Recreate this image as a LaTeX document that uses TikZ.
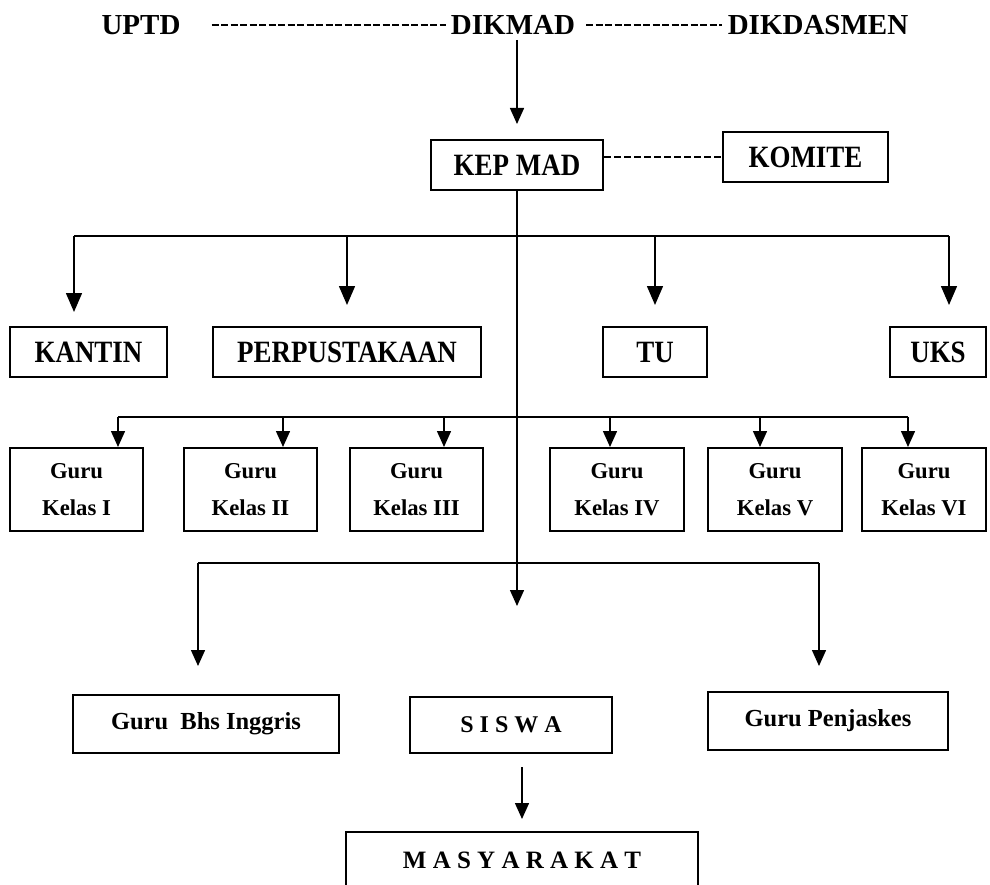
\documentclass[tikz,border=0pt]{standalone}
\usepackage{fontspec}
\setmainfont{Liberation Serif}
\newfontfamily\condfont[FakeStretch=0.87]{Liberation Serif}
\usetikzlibrary{arrows.meta}

\begin{document}
\begin{tikzpicture}[x=1pt, y=-1pt,
    box/.style = {draw, line width=2pt, inner sep=0pt, align=center},
    lbl/.style = {box, minimum height=50pt, font=\condfont\bfseries\fontsize{31}{36}\selectfont},
    guru/.style = {box, minimum height=83pt, font=\bfseries\fontsize{22.7}{37}\selectfont},
    low/.style = {box, minimum height=58pt, font=\bfseries\fontsize{24.5}{30}\selectfont},
    head/.style = {inner sep=0pt, font=\bfseries\fontsize{29}{34}\selectfont},
    link/.style = {line width=1.5pt},
    arr/.style = {link, -{Triangle[length=16pt, width=14pt]}},
    bigarr/.style = {link, -{Triangle[length=19pt, width=16pt]}},
    dsh/.style = {line width=2.2pt, dash pattern=on 7pt off 2.5pt}]
    \useasboundingbox (0,0) rectangle (990,885);
    \clip (0,0) rectangle (990,885);

    % top line
    \node[head] (uptd) at (141,25) {UPTD};
    \node[head] (dikmad) at (513,25) {DIKMAD};
    \node[head] (dikdas) at (818,25) {DIKDASMEN};
    \draw[dsh, shorten <=31pt, shorten >=5pt] (uptd) -- (dikmad);
    \draw[dsh, shorten <=11pt, shorten >=6pt] (dikmad) -- (dikdas);

    % head of school and committee
    \node[lbl, minimum width=172pt] (kepmad) at (517,165) {KEP MAD};
    \node[lbl, minimum width=165pt] (komite) at (805.5,157) {KOMITE};
    \draw[arr, shorten <=5pt, shorten >=15pt] (kepmad.north |- dikmad.south) -- (kepmad.north);
    \draw[dsh, line width=1.8pt, dash pattern=on 7pt off 3pt] (kepmad.east |- komite.west) -- (komite.west);

    % units
    \node[lbl, minimum width=157pt] (kantin) at (88.5,352) {KANTIN};
    \node[lbl, minimum width=268pt] (perp) at (347,352) {PERPUSTAKAAN};
    \node[lbl, minimum width=104pt] (tu) at (655,352) {TU};
    \node[lbl, minimum width=96pt] (uks) at (938,352) {UKS};

    % class teachers
    \foreach \x/\w/\k [count=\i] in {76.5/133/I, 250.5/133/II, 416.5/133/III, 617/134/IV, 775/134/V, 924/124/VI}
        \node[guru, minimum width=\w pt] (g\i) at (\x,489.5) {Guru\\Kelas \k};

    % subject teachers and pupils
    \node[low, minimum width=266pt] (bing) at (206,724) {Guru\hspace{0.5em}Bhs Inggris};
    \node[low, minimum width=202pt, minimum height=56pt, font=\bfseries\fontsize{24}{30}\selectfont] (siswa) at (511,725) {S I S W A};
    \node[low, minimum width=240pt] (penjas) at (828,721) {Guru Penjaskes};
    \node[low, minimum width=352pt, minimum height=56pt, font=\bfseries\fontsize{25}{30}\selectfont] (masy) at (522,860) {M A S Y A R A K A T};

    % main line
    \draw[arr, shorten >=90pt] (kepmad.south) -- (kepmad.south |- siswa.north);

    % first branch
    \foreach \x [count=\i] in {74,347,655,949}
        \coordinate (d\i) at (\x,236);
    \draw[link] (d1) -- (d4);
    \draw[bigarr, shorten >=14pt] (d1) -- (d1 |- kantin.north);
    \foreach \i/\n in {2/perp, 3/tu, 4/uks}
        \draw[bigarr, shorten >=21pt] (d\i) -- (d\i |- \n.north);

    % second branch
    \foreach \x [count=\i] in {118,283,444,610,760,908}
        \coordinate (e\i) at (\x,417);
    \draw[link] (e1) -- (e6);
    \foreach \i in {1,...,6}
        \draw[arr] (e\i) -- (e\i |- g\i.north);

    % third branch
    \coordinate (f1) at (198,563);
    \coordinate (f2) at (819,563);
    \draw[link] (f1) -- (f2);
    \draw[arr, shorten >=28pt] (f1) -- (f1 |- bing.north);
    \draw[arr, shorten >=25pt] (f2) -- (f2 |- penjas.north);

    \draw[arr, shorten <=13pt, shorten >=12pt] (masy.north |- siswa.south) -- (masy.north);
\end{tikzpicture}
\end{document}
